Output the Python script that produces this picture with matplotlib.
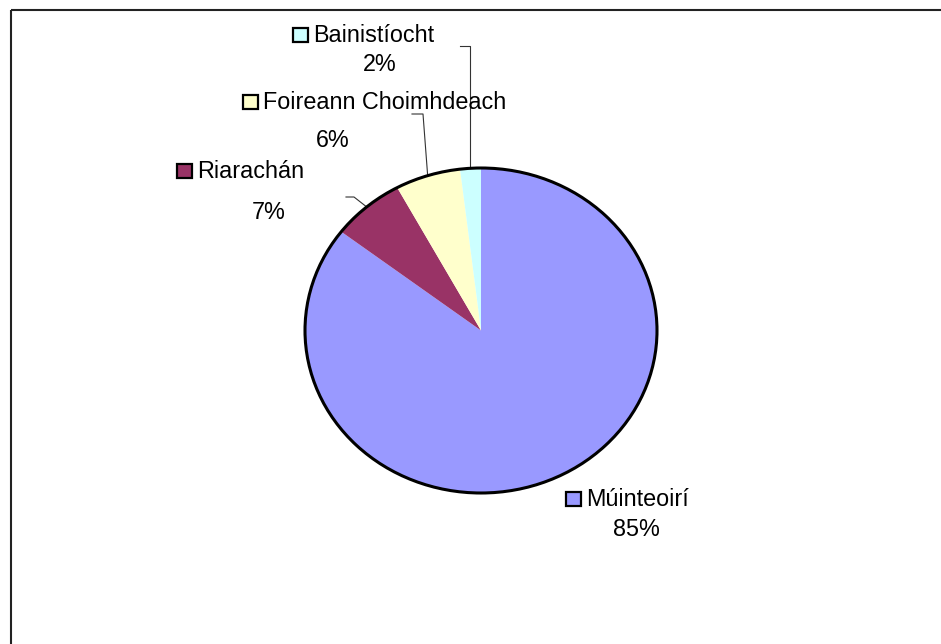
import numpy as np
import matplotlib
matplotlib.use("Agg")
import matplotlib.pyplot as plt
from matplotlib.patches import Rectangle, Ellipse

plt.rcParams['font.family'] = ['Liberation Sans', 'DejaVu Sans']

# data (clockwise from 12 o'clock)
names = ['Múinteoirí', 'Riarachán', 'Foireann Choimhdeach', 'Bainistíocht']
values = [85.4, 6.7, 6.0, 1.9]
pct_labels = ['85%', '7%', '6%', '2%']
colors = ['#9999FF', '#993366', '#FFFFCC', '#CCFFFF']

W, H = 941, 644
fig = plt.figure(figsize=(W / 100, H / 100), dpi=100)

# overlay in pixel coords
ax0 = fig.add_axes([0, 0, 1, 1])
ax0.set_xlim(0, W)
ax0.set_ylim(H, 0)
ax0.axis('off')
ax0.add_patch(Rectangle((11, 10), W + 20, H + 20, fill=False, ec='#222222', lw=1.5))

# pie box (ellipse) in pixels
px0, px1, py0, py1 = 305, 657, 168, 493
cx, cy = (px0 + px1) / 2, (py0 + py1) / 2
rx, ry = (px1 - px0) / 2, (py1 - py0) / 2

ax = fig.add_axes([px0 / W, 1 - py1 / H, (px1 - px0) / W, (py1 - py0) / H])
ax.pie(values, colors=colors, startangle=90, counterclock=False,
       wedgeprops=dict(linewidth=0), radius=1)
ax.set_aspect('auto')
ax.set_xlim(-1, 1)
ax.set_ylim(-1, 1)
ax.add_patch(Ellipse((0, 0), 2, 2, fill=False, ec='black', lw=2.2, clip_on=False))
ax.axis('off')

# label layout: (key square x, name y, pct x, pct y, elbow points or None)
layout = {
    'Múinteoirí': (566, 499, 636, 529, None),
    'Riarachán': (177, 171, 269, 212, [(346, 197), (354, 197)]),
    'Foireann Choimhdeach': (243, 102, 333, 140, [(412, 114), (423, 114)]),
    'Bainistíocht': (293, 35, 380, 64, [(460, 46), (470, 46)]),
}

cum = np.cumsum([0] + values)
total = sum(values)
fs = 16.8
for i, name in enumerate(names):
    sx, ny, pxp, pyp, elbow = layout[name]
    ax0.add_patch(Rectangle((sx, ny - 7), 15, 14, fc=colors[i], ec='black', lw=1.6))
    ax0.text(sx + 20, ny, name, fontsize=fs, ha='left', va='center')
    ax0.text(pxp, pyp, pct_labels[i], fontsize=fs, ha='center', va='center')
    if elbow:
        mid = (cum[i] + cum[i + 1]) / 2 / total * 2 * np.pi
        ex = cx + rx * np.sin(mid)
        ey = cy - ry * np.cos(mid)
        if name == 'Bainistíocht':
            ex = elbow[1][0]
            ey = cy - ry * np.sqrt(max(0, 1 - ((ex - cx) / rx) ** 2))
        xs = [p[0] for p in elbow] + [ex]
        ys = [p[1] for p in elbow] + [ey]
        ax0.plot(xs, ys, color='#333333', lw=0.8)

fig.savefig('out.png', dpi=100)
